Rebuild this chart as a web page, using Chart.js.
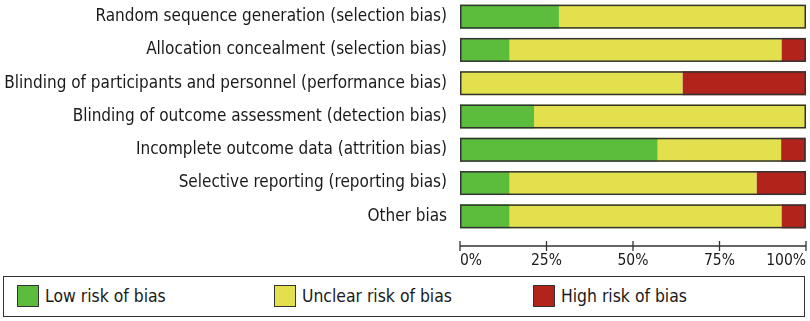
<!DOCTYPE html>
<html>
<head>
<meta charset="utf-8">
<script src="https://cdn.jsdelivr.net/npm/chart.js@4/dist/chart.umd.min.js"></script>
<style>
  html, body { margin: 0; padding: 0; background: #fff; }
  #wrap { position: relative; width: 810px; height: 321px; overflow: hidden; }
  #chartBox { position: absolute; left: 0; top: 0; width: 810px; height: 275px; }
  #legend { position: absolute; left: 3px; top: 276px; width: 800px; height: 39px;
            border: 1.5px solid #333; font-family: "DejaVu Sans Condensed", "DejaVu Sans", sans-serif; font-size: 17.4px; color: #1a1a1a; }
  .item { position: absolute; top: 8px; height: 22px; display: flex; align-items: center; }
  .sw { width: 20px; height: 20px; border: 1.5px solid #333; margin-right: 6px; box-sizing: content-box; }
</style>
</head>
<body>
<div id="wrap">
  <div id="chartBox"><canvas id="c"></canvas></div>
  <div id="legend"></div>
</div>
<script>
const categories = [
  "Random sequence generation (selection bias)",
  "Allocation concealment (selection bias)",
  "Blinding of participants and personnel (performance bias)",
  "Blinding of outcome assessment (detection bias)",
  "Incomplete outcome data (attrition bias)",
  "Selective reporting (reporting bias)",
  "Other bias"
];
const lowRisk     = [28.6, 14.3, 0,    21.4, 57.1, 14.3, 14.3];
const unclearRisk = [71.4, 78.6, 64.3, 78.6, 35.7, 71.4, 78.6];
const highRisk    = [0,    7.1,  35.7, 0,    7.1,  14.3, 7.1];
const seriesNames = ["Low risk of bias", "Unclear risk of bias", "High risk of bias"];
const seriesColors = ["#5bbd3b", "#e2e04c", "#b2241b"];
const tickValues = [0, 25, 50, 75, 100];

const FONT = '"DejaVu Sans Condensed", "DejaVu Sans", sans-serif';

const outlinePlugin = {
  id: 'outline',
  afterDatasetsDraw(chart) {
    const ctx = chart.ctx;
    const xs = chart.scales.x;
    const meta = chart.getDatasetMeta(0);
    ctx.save();
    ctx.strokeStyle = '#333';
    ctx.lineWidth = 1.5;
    meta.data.forEach((bar, i) => {
      const total = chart.data.datasets.reduce((s, d) => s + d.data[i], 0);
      const l = xs.getPixelForValue(0);
      const r = xs.getPixelForValue(total);
      const h = bar.height;
      ctx.strokeRect(l + 0.75, bar.y - h / 2 + 0.75, r - l - 1.5, h - 1.5);
    });
    // x axis line with ticks
    const yAx = chart.chartArea.bottom + 13;
    ctx.beginPath();
    ctx.moveTo(xs.getPixelForValue(tickValues[0]), yAx);
    ctx.lineTo(xs.getPixelForValue(tickValues[tickValues.length - 1]), yAx);
    tickValues.forEach(v => {
      const px = xs.getPixelForValue(v);
      ctx.moveTo(px, yAx - 5);
      ctx.lineTo(px, yAx + 5);
    });
    ctx.lineWidth = 1.3;
    ctx.stroke();
    ctx.restore();
  }
};

new Chart(document.getElementById('c'), {
  type: 'bar',
  data: {
    labels: categories,
    datasets: [lowRisk, unclearRisk, highRisk].map((d, k) => ({
      label: seriesNames[k],
      data: d,
      backgroundColor: seriesColors[k],
      borderWidth: 0,
      barPercentage: 0.72,
      categoryPercentage: 1.0
    }))
  },
  options: {
    indexAxis: 'y',
    responsive: true,
    maintainAspectRatio: false,
    animation: false,
    layout: { padding: { left: 0, right: 4, top: 0, bottom: 0 } },
    plugins: { legend: { display: false }, tooltip: { enabled: false } },
    scales: {
      x: {
        stacked: true,
        min: 0, max: 100,
        afterBuildTicks(s) { s.ticks = tickValues.map(v => ({ value: v })); },
        afterFit(s) { s.height = 42; s.paddingLeft = 0; s.paddingRight = 0; },
        grid: { display: false, drawTicks: false },
        border: { display: false },
        ticks: {
          padding: 19,
          align: 'inner',
          color: '#1a1a1a',
          font: { family: FONT, size: 15.5 },
          maxRotation: 0,
          autoSkip: false,
          callback: v => v + '%'
        }
      },
      y: {
        stacked: true,
        afterFit(s) { s.width = 460; s.paddingTop = 0; s.paddingBottom = 0; },
        grid: { display: false, drawTicks: false },
        border: { display: false },
        ticks: {
          padding: 13,
          color: '#1a1a1a',
          autoSkip: false,
          font: { family: FONT, size: 17 }
        }
      }
    }
  },
  plugins: [outlinePlugin]
});

const lg = document.getElementById('legend');
const legendX = [13, 270, 529];
seriesNames.forEach((n, k) => {
  const it = document.createElement('div');
  it.className = 'item';
  it.style.left = legendX[k] + 'px';
  const sw = document.createElement('div');
  sw.className = 'sw';
  sw.style.background = seriesColors[k];
  const t = document.createElement('span');
  t.textContent = n;
  it.appendChild(sw); it.appendChild(t);
  lg.appendChild(it);
});
</script>
</body>
</html>
